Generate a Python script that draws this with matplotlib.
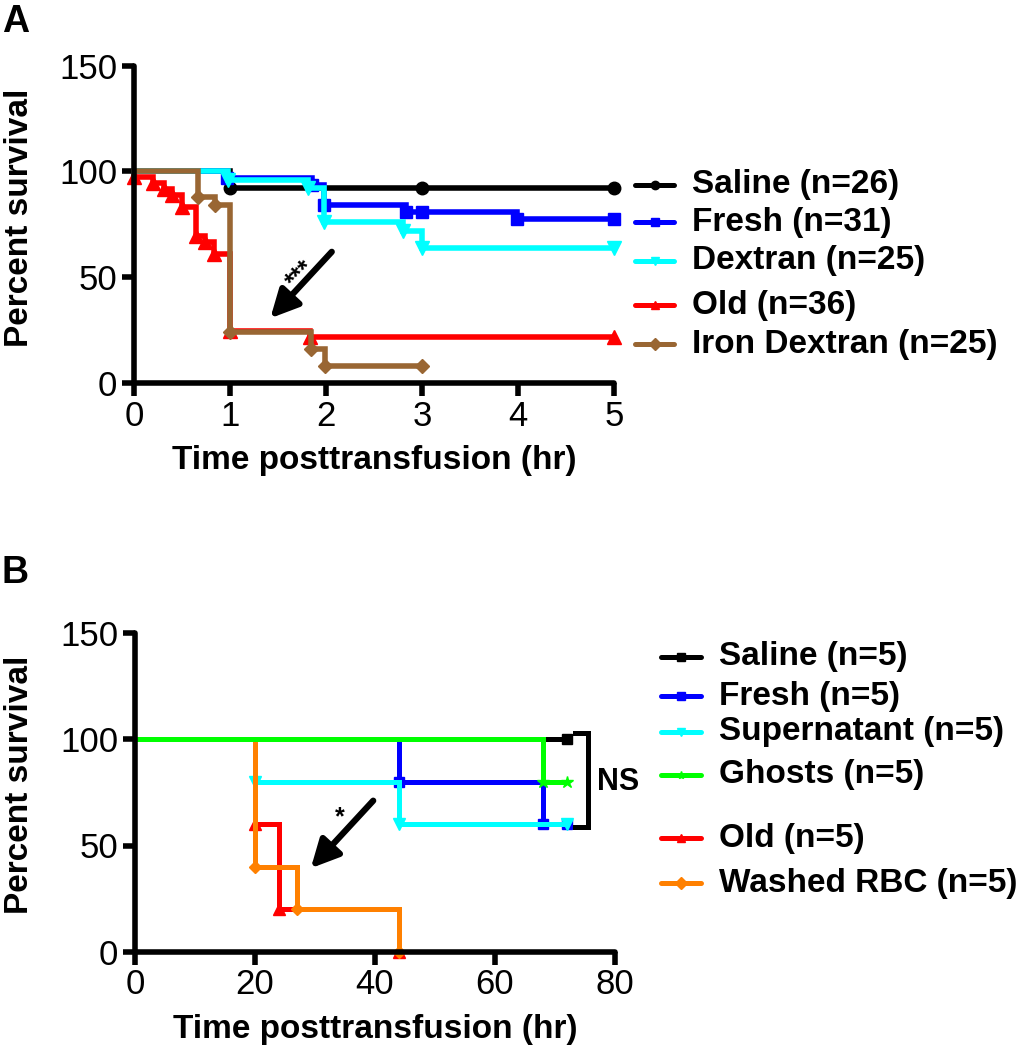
import matplotlib
matplotlib.use('Agg')
import matplotlib.pyplot as plt
from matplotlib.lines import Line2D

plt.rcParams['font.family'] = ['Liberation Sans', 'DejaVu Sans']

# panel A : hours, percent survival
a_saline_t = [0, 1.0, 3.0, 5.0]
a_saline_s = [100, 92.3, 92.3, 92.3]
a_fresh_t = [0, 0.97, 1.85, 1.98, 2.83, 3.0, 3.99, 5.0]
a_fresh_s = [100, 96.8, 93.5, 83.9, 80.6, 80.6, 77.4, 77.4]
a_dextran_t = [0, 0.98, 1.81, 1.98, 2.8, 3.0, 5.0]
a_dextran_s = [100, 96, 92, 76, 72, 64, 64]
a_old_t = [0, 0.2, 0.31, 0.4, 0.5, 0.65, 0.74, 0.83, 1.0, 1.83, 5.0]
a_old_s = [97.2, 94.4, 91.7, 88.9, 83.3, 69.4, 66.7, 61.1, 24.4, 21.6, 21.6]
a_iron_t = [0, 0.67, 0.845, 1.0, 1.84, 1.99, 3.0]
a_iron_s = [100, 88, 84, 24, 16, 8, 8]
a_labels = ['Saline (n=26)', 'Fresh (n=31)', 'Dextran (n=25)', 'Old (n=36)',
            'Iron Dextran (n=25)']

# panel B
b_saline_t = [0, 72]
b_saline_s = [100, 100]
b_fresh_t = [0, 44, 68, 72]
b_fresh_s = [100, 80, 60, 60]
b_super_t = [0, 20, 44, 72]
b_super_s = [100, 80, 60, 60]
b_ghosts_t = [0, 68, 72]
b_ghosts_s = [100, 80, 80]
b_old_t = [0, 20, 24, 44]
b_old_s = [100, 60, 20, 0]
b_washed_t = [0, 20, 27, 44]
b_washed_s = [100, 40, 20, 0]
b_labels = ['Saline (n=5)', 'Fresh (n=5)', 'Supernatant (n=5)', 'Ghosts (n=5)',
            'Old (n=5)', 'Washed RBC (n=5)']

W, H = 1030, 1050
fig = plt.figure(figsize=(W / 100, H / 100), dpi=100)

def fx(px):
    return px / W

def fy(py):
    return 1 - py / H

def style_axes(ax, xmax, xticks):
    for s in ['top', 'right']:
        ax.spines[s].set_visible(False)
    for s in ['left', 'bottom']:
        ax.spines[s].set_linewidth(4)
        ax.spines[s].set_capstyle('round')
    ax.set_xlim(0, xmax)
    ax.set_ylim(0, 150)
    ax.set_xticks(xticks)
    ax.set_yticks([0, 50, 100, 150])
    ax.tick_params(width=4, length=9, labelsize=25, pad=3)

def km(ax, t, s, color, marker, ms, lw, skip_first=True, z=2):
    ax.step(t, s, where='post', color=color, lw=lw, clip_on=False,
            solid_joinstyle='miter', zorder=z)
    i0 = 1 if skip_first else 0
    ax.plot(t[i0:], s[i0:], ls='none', marker=marker, ms=ms, color=color,
            mec=color, clip_on=False, zorder=z)

def legend_entry(y, color, marker, ms, text, x0, x1, xt):
    fig.add_artist(Line2D([fx(x0), fx(x1)], [fy(y), fy(y)], color=color, lw=3.6,
                          solid_capstyle='round', transform=fig.transFigure))
    fig.add_artist(Line2D([fx((x0 + x1) / 2)], [fy(y)], color=color, marker=marker,
                          ms=ms, transform=fig.transFigure))
    fig.text(fx(xt), fy(y), text, fontsize=24, fontweight='bold', va='center',
             ha='left')

# ---------------- panel A
axA = fig.add_axes([fx(134), fy(383), fx(480), 150 * 2.116 / H])
style_axes(axA, 5, [0, 1, 2, 3, 4, 5])
km(axA, a_saline_t, a_saline_s, 'black', 'o', 9, 4)
km(axA, a_fresh_t, a_fresh_s, '#0000FF', 's', 8.5, 4)
km(axA, a_dextran_t, a_dextran_s, '#00FFFF', 'v', 10, 4)
km(axA, a_old_t, a_old_s, '#FF0000', '^', 10, 4, skip_first=False)
km(axA, a_iron_t, a_iron_s, '#996633', 'D', 7.5, 4)

axA.annotate('', xy=(1.42, 30.6), xytext=(2.06, 62.0),
             arrowprops=dict(arrowstyle='-|>,head_length=0.42,head_width=0.21',
                             lw=4.5, color='black', mutation_scale=40,
                             shrinkA=0, shrinkB=0))
axA.text(1.73, 51.4, '***', rotation=45, fontsize=18, fontweight='bold',
         ha='center', va='center')

fig.text(fx(374), fy(461), 'Time posttransfusion (hr)', fontsize=24,
         fontweight='bold', ha='center', va='center')
fig.text(fx(20), fy(217.5), 'Percent survival', fontsize=24, fontweight='bold',
         ha='center', va='center', rotation=90)
fig.text(fx(2), fy(32), 'A', fontsize=27, fontweight='bold', ha='left',
         va='baseline')

a_colors = ['black', '#0000FF', '#00FFFF', '#FF0000', '#996633']
a_markers = ['o', 's', 'v', '^', 'D']
a_leg_y = [185, 222, 261, 305, 344]
for y, c, m, lab in zip(a_leg_y, a_colors, a_markers, a_labels):
    legend_entry(y, c, m, 6, lab, 635, 674, 692)

# ---------------- panel B
axB = fig.add_axes([fx(135), fy(951.7), fx(480), 150 * 2.124 / H])
style_axes(axB, 80, [0, 20, 40, 60, 80])
km(axB, b_saline_t, b_saline_s, 'black', 's', 7, 3.6)
km(axB, b_fresh_t, b_fresh_s, '#0000FF', 's', 7, 3.6)
km(axB, b_super_t, b_super_s, '#00FFFF', 'v', 8, 3.6)
km(axB, b_old_t, b_old_s, '#FF0000', '^', 8, 3.6)
km(axB, b_washed_t, b_washed_s, '#FF8000', 'D', 6, 3.6)
km(axB, b_ghosts_t, b_ghosts_s, '#00FF00', '*', 9, 3.6)

axB.plot([73.3, 75.5, 75.5, 73.3], [102.9, 102.9, 58.6, 58.6], color='black',
         lw=3.6, clip_on=False, solid_joinstyle='miter')
axB.text(77.0, 80.0, 'NS', fontsize=22, fontweight='bold', ha='left',
         va='center')

axB.annotate('', xy=(29.3, 39.3), xytext=(39.7, 71.1),
             arrowprops=dict(arrowstyle='-|>,head_length=0.42,head_width=0.21',
                             lw=4.5, color='black', mutation_scale=40,
                             shrinkA=0, shrinkB=0))
axB.text(34.2, 63.2, '*', fontsize=18, fontweight='bold', ha='center',
         va='center')

fig.text(fx(375), fy(1029.7), 'Time posttransfusion (hr)', fontsize=24,
         fontweight='bold', ha='center', va='center')
fig.text(fx(20), fy(785), 'Percent survival', fontsize=24, fontweight='bold',
         ha='center', va='center', rotation=90)
fig.text(fx(2), fy(583), 'B', fontsize=27, fontweight='bold', ha='left',
         va='baseline')

b_colors = ['black', '#0000FF', '#00FFFF', '#00FF00', '#FF0000', '#FF8000']
b_markers = ['s', 's', 'v', '*', '^', 'D']
b_leg_y = [656.7, 696, 731.7, 775, 838.3, 883.3]
for y, c, m, lab in zip(b_leg_y, b_colors, b_markers, b_labels):
    legend_entry(y, c, m, 6, lab, 661, 701, 719)

fig.savefig('out.png', dpi=100)
